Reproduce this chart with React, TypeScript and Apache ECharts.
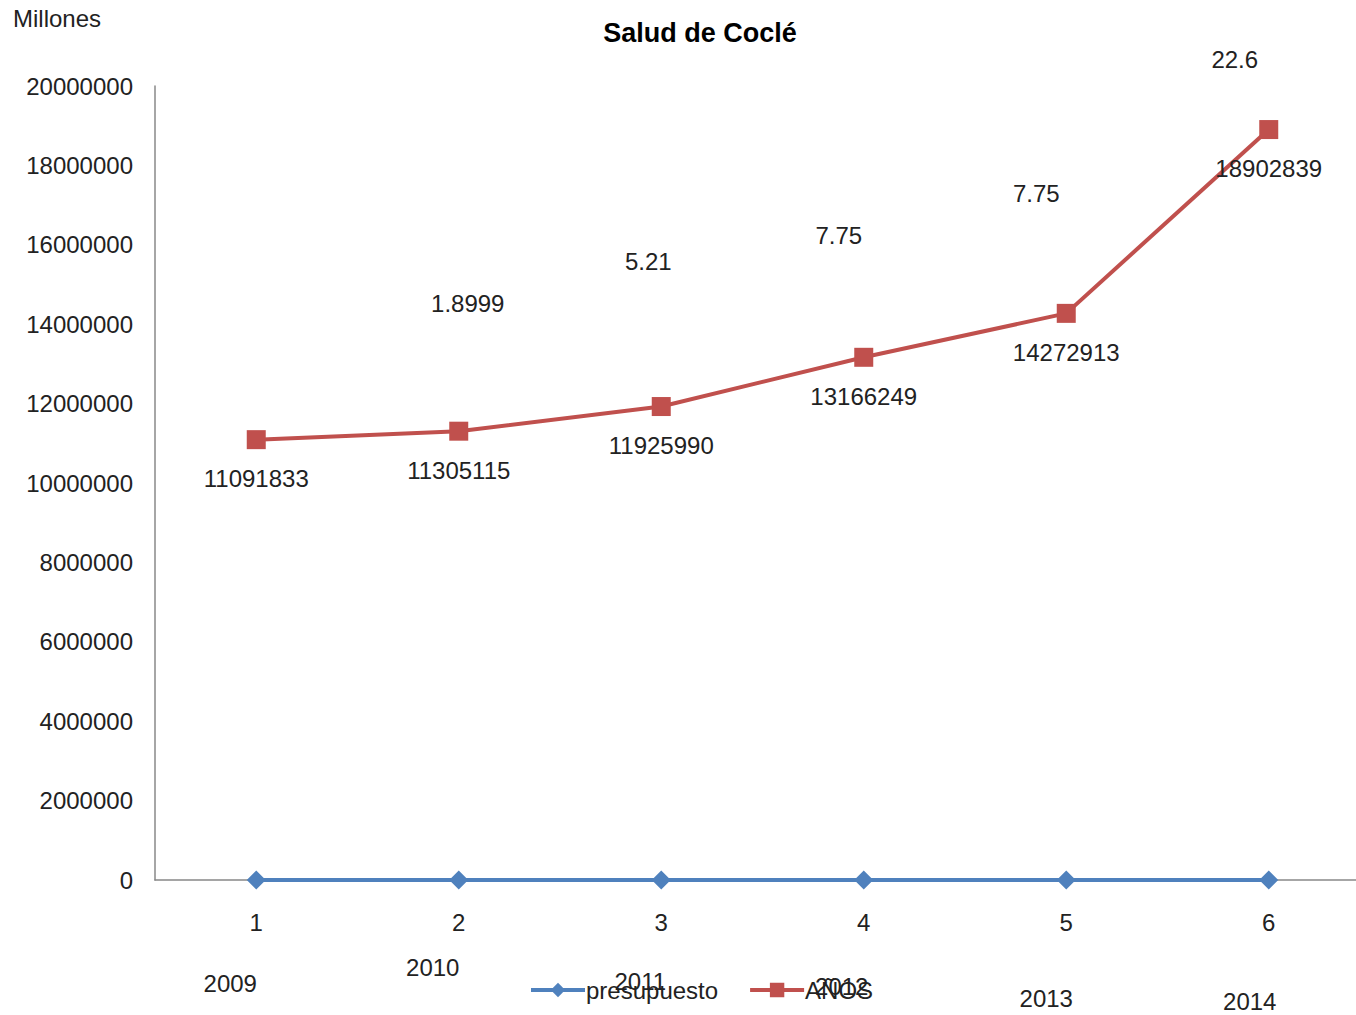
import React, { useEffect, useRef } from "react";
import * as echarts from "echarts";

const categories = ["1", "2", "3", "4", "5", "6"];
const presupuesto = [0, 1.8999, 5.21, 7.75, 7.75, 22.6];
const anos = [11091833, 11305115, 11925990, 13166249, 14272913, 18902839];
const years = ["2009", "2010", "2011", "2012", "2013", "2014"];
const pctLabelOffsets = [null, [9, -576], [-13, -618], [-25, -644], [-30, -686], [-34, -820]];
const yearLabelOffsets = [[-26, 103], [-26, 87], [-21, 101], [-22, 106], [-20, 118], [-19, 121]];

const FONT = "'Liberation Sans', Arial, sans-serif";

export default function App() {
  const ref = useRef<HTMLDivElement>(null);
  useEffect(() => {
    const chart = echarts.init(ref.current!, null, { renderer: "svg" });
    chart.setOption({
      animation: false,
      textStyle: { fontFamily: FONT },
      title: {
        text: "Salud de Coclé",
        left: 695,
        textAlign: "center",
        top: 14,
        textStyle: { fontSize: 27, fontWeight: "bold", color: "#000", fontFamily: FONT },
      },
      graphic: [
        {
          type: "text",
          left: 13,
          top: 6,
          style: { text: "Millones", fontSize: 24, fill: "#222", fontFamily: FONT },
        },
      ],
      legend: {
        data: ["presupuesto", "AÑOS"],
        left: 524,
        top: 973,
        itemWidth: 54,
        itemHeight: 18,
        itemGap: 30,
        lineStyle: { width: 4 },
        textStyle: { fontSize: 24, color: "#222", fontFamily: FONT, padding: [0, 0, 0, -4] },
      },
      grid: { left: 155, right: 0, top: 86, bottom: 135, containLabel: false },
      xAxis: {
        type: "category",
        data: categories,
        boundaryGap: true,
        axisLine: { lineStyle: { color: "#888", width: 1.5 } },
        axisTick: { show: false },
        axisLabel: { fontSize: 24, color: "#222", margin: 30, fontFamily: FONT },
      },
      yAxis: {
        type: "value",
        min: 0,
        max: 20000000,
        interval: 2000000,
        splitLine: { show: false },
        axisLine: { show: true, lineStyle: { color: "#888", width: 1.5 } },
        axisTick: { show: false },
        axisLabel: {
          fontSize: 24,
          color: "#222",
          margin: 22,
          fontFamily: FONT,
          formatter: (v: number) => String(v),
        },
      },
      series: [
        {
          name: "presupuesto",
          type: "line",
          data: presupuesto,
          symbol: "diamond",
          symbolSize: 19,
          lineStyle: { color: "#4F81BD", width: 4 },
          itemStyle: { color: "#4F81BD" },
          z: 3,
        },
        {
          name: "AÑOS",
          type: "line",
          data: anos,
          symbol: "rect",
          symbolSize: 19,
          lineStyle: { color: "#C0504D", width: 4 },
          itemStyle: { color: "#C0504D" },
          label: {
            show: true,
            position: "inside",
            offset: [0, 39],
            fontSize: 24,
            color: "#222",
            fontFamily: FONT,
          },
          z: 3,
        },
        {
          name: "pct",
          type: "scatter",
          data: presupuesto.map((v, i) => ({
            value: v,
            label: pctLabelOffsets[i]
              ? { show: true, offset: pctLabelOffsets[i] }
              : { show: false },
          })),
          symbolSize: 2,
          itemStyle: { color: "rgba(0,0,0,0)", opacity: 1 },
          label: {
            show: true,
            position: "inside",
            fontSize: 24,
            color: "#222",
            opacity: 1,
            fontFamily: FONT,
            formatter: (p: any) => String(presupuesto[p.dataIndex]),
          },
          silent: true,
          z: 5,
        },
        {
          name: "years",
          type: "scatter",
          data: years.map((y, i) => ({
            value: 0,
            label: { show: true, offset: yearLabelOffsets[i] },
          })),
          symbolSize: 2,
          itemStyle: { color: "rgba(0,0,0,0)", opacity: 1 },
          label: {
            show: true,
            position: "inside",
            fontSize: 24,
            color: "#222",
            opacity: 1,
            fontFamily: FONT,
            formatter: (p: any) => years[p.dataIndex],
          },
          silent: true,
          z: 5,
        },
      ],
    });
    return () => chart.dispose();
  }, []);
  return (
    <div
      style={{ position: "fixed", left: 0, top: 0, width: 1356, height: 1015, overflow: "hidden", background: "#fff" }}
    >
      <div ref={ref} style={{ width: 1370, height: 1015 }} />
    </div>
  );
}
